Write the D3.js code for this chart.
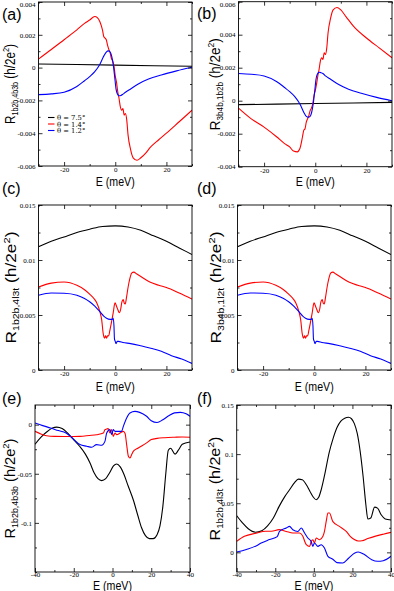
<!DOCTYPE html>
<html><head><meta charset="utf-8">
<script src="https://cdn.jsdelivr.net/npm/d3@7"></script>
<style>body{margin:0;background:#fff} svg{display:block}</style>
</head><body><svg id="c" width="394" height="591"></svg>
<script>
// ---------- DATA ----------
// Panel (a)
const aBlackE = [-30, 0, 30];
const aBlackR = [0.00022, 0.00015, 0.00008];
const aRedE = [-30,-25,-20,-15,-12,-10,-8,-7,-6,-5,-4.5,-4,-3.5,-3,-2.5,-2,-1.5,-1,-0.5,0,0.5,1,1.5,2,2.5,3,3.5,4,4.5,5,6,7,8.5,10,12,13.5,17,20,25,30];
const aRedR = [0.00052,0.0011,0.0017,0.0023,0.0027,0.0029,0.00312,0.00305,0.0028,0.0023,0.0019,0.0018,0.0017,0.00135,0.0011,0.0009,0.00055,0.0004,0.0001,-0.0005,-0.0009,-0.0015,-0.0019,-0.0024,-0.0026,-0.0025,-0.0029,-0.0028,-0.0032,-0.0041,-0.0050,-0.0055,-0.00565,-0.0055,-0.0052,-0.0049,-0.0044,-0.0040,-0.0033,-0.0026];
const aBlueE = [-30,-25,-20,-15,-12,-10,-8,-6,-4.5,-3.5,-2.7,-2,-1.4,-0.8,-0.2,0.3,0.8,1.5,2.2,3,4,6,9,13,18,24,30];
const aBlueR = [-0.00165,-0.0016,-0.0015,-0.00115,-0.0008,-0.00055,-0.00025,0.0002,0.0007,0.00095,0.00102,0.00095,0.0007,0.0002,-0.0006,-0.0013,-0.0016,-0.00172,-0.0017,-0.00162,-0.0015,-0.0013,-0.001,-0.0007,-0.00045,-0.0002,0.00002];
// Panel (b)
const bBlackE = [-30, 0, 30];
const bBlackR = [-0.00024, -0.00017, -0.0001];
const bRedE = [-30,-25,-20,-15,-12,-10,-8.5,-7,-6,-5,-4.5,-4,-3.5,-3,-2.5,-2,-1.5,-1,-0.5,0,0.5,1,1.5,2,2.5,3,3.5,4,4.5,5,6,7,8.5,10,12,15,20,25,30];
const bRedR = [-0.00045,-0.0011,-0.0016,-0.0022,-0.0026,-0.0028,-0.00305,-0.0031,-0.0029,-0.0022,-0.0018,-0.0017,-0.0013,-0.0011,-0.0009,-0.0006,-0.00045,-0.0002,0.0003,0.0006,0.001,0.0015,0.0019,0.0024,0.0026,0.0025,0.0029,0.0028,0.0032,0.0041,0.0050,0.0055,0.00565,0.0055,0.0051,0.0045,0.0038,0.0032,0.0026];
const bBlueE = [-30,-25,-20,-15,-12,-10,-8,-6,-4.5,-3.5,-2.7,-2,-1.4,-0.8,-0.2,0.3,0.8,1.5,2.2,3,4,6,9,13,18,24,30];
const bBlueR = [0.00165,0.0016,0.0015,0.00115,0.0008,0.00055,0.00025,-0.0002,-0.0007,-0.00095,-0.001,-0.00095,-0.0007,-0.0002,0.0006,0.0013,0.0016,0.00172,0.0017,0.00165,0.0015,0.0013,0.001,0.0007,0.00045,0.0002,0.0];
// Panel (c)
const cBlackE = [-30,-25,-20,-15,-10,-5,0,5,10,15,20,25,30];
const cBlackR = [0.0112,0.0117,0.0121,0.0125,0.0128,0.01305,0.0131,0.0130,0.0127,0.0122,0.0117,0.0111,0.0105];
const cRedE = [-30,-25,-20,-15,-12,-10,-8,-7.2,-6,-5.3,-4.7,-4.2,-3.8,-3.4,-3,-2.6,-2.1,-1.5,-0.8,-0.1,0.5,1,1.6,2.1,2.6,3.1,3.5,3.9,4.4,5,5.7,6.4,7.3,8.3,10,13.5,17,20,25,30];
const cRedR = [0.00755,0.0079,0.0080,0.0077,0.0073,0.0069,0.0064,0.0061,0.0053,0.00455,0.0033,0.0029,0.0031,0.0029,0.0031,0.0031,0.0036,0.0043,0.0052,0.0061,0.0058,0.0055,0.0052,0.0055,0.0062,0.0064,0.0061,0.0060,0.0066,0.0075,0.0083,0.0088,0.0089,0.00875,0.0085,0.0080,0.0077,0.0075,0.0070,0.00645];
const cBlueE = [-30,-25,-20,-15,-12,-10,-8,-6,-4.5,-3.4,-2,-1.2,-0.8,-0.5,-0.3,0,0.3,0.8,1.3,3,6,10,13.5,18,22,26,30];
const cBlueR = [0.0068,0.0070,0.00698,0.0068,0.0065,0.0062,0.0058,0.0053,0.0049,0.0047,0.0046,0.0046,0.0047,0.0040,0.0028,0.0026,0.0024,0.0026,0.0026,0.0025,0.0024,0.0022,0.0020,0.0017,0.0013,0.0010,0.0006];
// Panel (d)
const dBlackE = [-30,-25,-20,-15,-10,-5,0,5,10,15,20,25,30];
const dBlackR = [0.0112,0.0117,0.0121,0.0125,0.0128,0.01305,0.0131,0.0130,0.0127,0.0122,0.0117,0.0111,0.0105];
const dRedE = [-30,-25,-20,-15,-12,-10,-8,-7.2,-6,-5.3,-4.7,-4.2,-3.8,-3.4,-3,-2.6,-2.1,-1.5,-0.8,-0.1,0.5,1,1.6,2.1,2.6,3.1,3.5,3.9,4.4,5,5.7,6.4,7.3,8.3,10,13.5,17,20,25,30];
const dRedR = [0.00755,0.0079,0.0080,0.0077,0.0073,0.0069,0.0064,0.0061,0.0053,0.00455,0.0033,0.0029,0.0031,0.0029,0.0031,0.0031,0.0036,0.0043,0.0052,0.0061,0.0058,0.0055,0.0052,0.0055,0.0062,0.0064,0.0061,0.0060,0.0066,0.0075,0.0083,0.0088,0.0089,0.00875,0.0085,0.0080,0.0077,0.0075,0.0070,0.00645];
const dBlueE = [-30,-25,-20,-15,-12,-10,-8,-6,-4.5,-3.4,-2,-1.2,-0.8,-0.5,-0.3,0,0.3,0.8,1.3,3,6,10,13.5,18,22,26,30];
const dBlueR = [0.0068,0.0070,0.00698,0.0068,0.0065,0.0062,0.0058,0.0053,0.0049,0.0047,0.0046,0.0046,0.0047,0.0040,0.0028,0.0026,0.0024,0.0026,0.0026,0.0025,0.0024,0.0022,0.0020,0.0017,0.0013,0.0010,0.0006];
// Panel (e)
const eBlackE = [-40,-37,-34,-31,-28.8,-26,-23,-20,-17,-14,-11.6,-9.5,-7.5,-5.6,-3.5,-1.5,0.5,2.2,4,6,8,10.8,13,15,17,19,21,23,24.5,26,27.5,28.8,30,32.3,34,36,40];
const eBlackR = [-0.020,-0.013,-0.0075,-0.0035,-0.0025,-0.004,-0.009,-0.0155,-0.022,-0.030,-0.039,-0.049,-0.055,-0.057,-0.055,-0.049,-0.042,-0.040,-0.043,-0.051,-0.062,-0.077,-0.092,-0.105,-0.113,-0.116,-0.116,-0.112,-0.103,-0.083,-0.050,-0.026,-0.024,-0.030,-0.026,-0.020,-0.0176];
const eRedE = [-40,-37,-34,-30,-25,-20,-16.8,-12,-8.2,-4.7,-3.9,-3,-2.2,-1.3,-0.4,0.4,1.3,2.2,3.9,5.6,6.5,7.3,8.2,9,10,10.8,13.3,17.6,20,23,27,32,36,40];
const eRedR = [-0.0068,-0.0095,-0.0113,-0.0119,-0.012,-0.012,-0.0119,-0.011,-0.0102,-0.0085,-0.0051,-0.0045,-0.004,-0.0085,-0.005,-0.0119,-0.0085,-0.0102,-0.0085,-0.0068,-0.009,-0.0203,-0.0322,-0.034,-0.030,-0.027,-0.0237,-0.0186,-0.0152,-0.0140,-0.0133,-0.0128,-0.0125,-0.0129];
const eBlueE = [-40,-36,-32,-28,-24,-20,-16.8,-13.3,-10.7,-8.2,-5.6,-3.9,-3,-1.3,-0.4,0.4,1.3,2.2,4.7,5.6,7.3,9,11.6,14,17.6,20,23,26,29,32,35,38,40];
const eBlueR = [0.0017,-0.001,-0.0034,-0.006,-0.0085,-0.015,-0.0203,-0.022,-0.023,-0.0203,-0.021,-0.017,-0.0085,-0.0051,-0.0102,-0.0051,-0.0068,-0.0068,-0.0068,-0.0017,0.0068,0.0119,0.0135,0.0125,0.0085,0.004,0.0022,0.005,0.009,0.012,0.0125,0.011,0.0085];
// Panel (f)
const fBlackE = [-40,-37,-34,-30.3,-27,-24,-21,-18,-15,-12.6,-10,-8,-6,-3.9,-2,-0.5,1.2,2.5,3.8,5.5,8,10,12,14,16,18,19.5,21,22.5,24,25.5,27,28,29.5,31.5,33,35,37,40];
const fBlackR = [0.0373,0.030,0.024,0.0205,0.022,0.027,0.035,0.0468,0.057,0.0637,0.071,0.0745,0.074,0.0688,0.062,0.0569,0.0536,0.056,0.0637,0.078,0.102,0.116,0.127,0.1335,0.1365,0.1375,0.136,0.131,0.121,0.103,0.078,0.048,0.034,0.035,0.046,0.045,0.038,0.034,0.033];
const fRedE = [-40,-36,-30,-25,-22,-18,-14.3,-10.9,-7.4,-5.7,-4.5,-3.9,-2.2,-1.4,-0.5,0.3,1.2,3,4.7,5.5,6.4,7.3,8.1,9.8,13.3,16.8,19,21,23,25,28,32,36,40];
const fRedR = [0.0112,0.0163,0.0195,0.0215,0.0215,0.0231,0.0213,0.0197,0.0197,0.0163,0.010,0.0078,0.0061,0.011,0.0129,0.0095,0.0146,0.0129,0.0163,0.0213,0.0315,0.040,0.040,0.0315,0.0264,0.0213,0.016,0.013,0.0115,0.0118,0.014,0.0165,0.0185,0.0203];
const fBlueE = [-40,-35,-30,-27.3,-23,-19,-17.8,-14.3,-12.6,-10.9,-8.3,-6.5,-4.8,-3.1,-1.4,-0.5,0.3,2.1,3.8,5.5,7.3,9.8,12,15,18,21,23,26,30,33,36,40];
const fBlueR = [0.0004,0.003,0.0065,0.0095,0.013,0.016,0.0213,0.0248,0.0264,0.023,0.0213,0.0248,0.0197,0.0146,0.011,0.0061,0.0095,0.0061,0.0078,0.0044,-0.004,-0.007,-0.0105,-0.0108,-0.006,-0.001,0.0004,-0.002,-0.0075,-0.0091,-0.0085,-0.004];

// Tick values / labels
const abXTicks = [-20, 0, 20];
const abXTickLabels = ["-20", "0", "20"];
const abXMinor = [-30, -10, 10, 30];
const efXTicks = [-40, -20, 0, 20, 40];
const efXTickLabels = ["-40", "-20", "0", "20", "40"];
const efXMinor = [-30, -10, 10, 30];
const aYTicks = [-0.006, -0.004, -0.002, 0, 0.002, 0.004];
const aYTickLabels = ["-0.006", "-0.004", "-0.002", "0", "0.002", "0.004"];
const aYMinor = [-0.005, -0.003, -0.001, 0.001, 0.003];
const bYTicks = [-0.004, -0.002, 0, 0.002, 0.004, 0.006];
const bYTickLabels = ["-0.004", "-0.002", "0", "0.002", "0.004", "0.006"];
const bYMinor = [-0.003, -0.001, 0.001, 0.003, 0.005];
const cdYTicks = [0, 0.005, 0.01, 0.015];
const cdYTickLabels = ["0", "0.005", "0.01", "0.015"];
const cdYMinor = [0.0025, 0.0075, 0.0125];
const eYTicks = [-0.1, -0.05, 0];
const eYTickLabels = ["-0.1", "-0.05", "0"];
const eYMinor = [-0.125, -0.075, -0.025];
const eYExtra = [-0.15];
const fYTicks = [0, 0.05, 0.1, 0.15];
const fYTickLabels = ["0", "0.05", "0.1", "0.15"];
const fYMinor = [0.025, 0.075, 0.125];

const legendLabels = ["\u03b8 = 7.5\u00b0", "\u03b8 = 1.4\u00b0", "\u03b8 = 1.2\u00b0"];
const seriesColors = ["#000000", "#ff0000", "#0000ff"];

// ---------- LAYOUT ----------
const panels = [
  {id:"a", L:38.5, R:192, T:2, B:166, xd:[-30,30], yd:[-0.006,0.004],
   s:[[aBlackE,aBlackR],[aRedE,aRedR],[aBlueE,aBlueR]],
   xt:abXTicks, xl:abXTickLabels, xm:abXMinor, yt:aYTicks, yl:aYTickLabels, ym:aYMinor,
   sub:"1b2b,4b3b", lab:[2,20], ylx:15, yll:80, xlab:186, pad:1},
  {id:"b", L:238.5, R:392, T:1.7, B:166.7, xd:[-30,30], yd:[-0.004,0.006],
   s:[[bBlackE,bBlackR],[bRedE,bRedR],[bBlueE,bBlueR]],
   xt:abXTicks, xl:abXTickLabels, xm:abXMinor, yt:bYTicks, yl:bYTickLabels, ym:bYMinor,
   sub:"3b4b,1b2b", lab:[197,19], ylx:220, yll:92, xlab:186, pad:1},
  {id:"c", L:38.5, R:192, T:205, B:370, xd:[-30,30], yd:[0,0.015],
   s:[[cBlackE,cBlackR],[cRedE,cRedR],[cBlueE,cBlueR]],
   xt:abXTicks, xl:abXTickLabels, xm:abXMinor, yt:cdYTicks, yl:cdYTickLabels, ym:cdYMinor,
   sub:"1b2b,4l3t", lab:[2,194], ylx:16, yll:112, xlab:390.5, pad:1},
  {id:"d", L:237.5, R:391, T:205, B:370, xd:[-30,30], yd:[0,0.015],
   s:[[dBlackE,dBlackR],[dRedE,dRedR],[dBlueE,dBlueR]],
   xt:abXTicks, xl:abXTickLabels, xm:abXMinor, yt:cdYTicks, yl:cdYTickLabels, ym:cdYMinor,
   sub:"3b4b,1l2t", lab:[197,194], ylx:221, yll:112, xlab:390.5, pad:1},
  {id:"e", L:35, R:190, T:405, B:572, xd:[-40,40], yd:[-0.15,0.02],
   s:[[eBlackE,eBlackR],[eRedE,eRedR],[eBlueE,eBlueR]],
   xt:efXTicks, xl:efXTickLabels, xm:efXMinor, yt:eYTicks, yl:eYTickLabels, ym:eYMinor.concat(eYExtra),
   sub:"1b2b,4b3b", lab:[2,404], ylx:15, yll:100, xlab:589.5, pad:0},
  {id:"f", L:236.7, R:391, T:405, B:572, xd:[-40,40], yd:[-0.02,0.15],
   s:[[fBlackE,fBlackR],[fRedE,fRedR],[fBlueE,fBlueR]],
   xt:efXTicks, xl:efXTickLabels, xm:efXMinor, yt:fYTicks, yl:fYTickLabels, ym:fYMinor,
   sub:"1b2b,4l3t", lab:[197,404], ylx:220, yll:104, xlab:589.5, pad:0}
];

const svg = d3.select("#c");
const defs = svg.append("defs");

function styleAxis(g) {
  g.select(".domain").remove();
  g.selectAll("line").attr("stroke", "#000").attr("stroke-width", 0.8);
  g.selectAll("text").attr("font-family", "'Liberation Serif', 'Times New Roman', serif")
    .attr("font-size", 7).attr("fill", "#000");
}

panels.forEach(p => {
  const x = d3.scaleLinear().domain(p.xd).range([p.L, p.R]);
  const y = d3.scaleLinear().domain(p.yd).range([p.B, p.T]);
  const g = svg.append("g");
  const clipId = "clip-" + p.id;
  defs.append("clipPath").attr("id", clipId).append("rect")
    .attr("x", p.L).attr("y", p.T).attr("width", p.R - p.L).attr("height", p.B - p.T);

  // curves
  const line = d3.line().x(d => x(d[0])).y(d => y(d[1])).curve(d3.curveMonotoneX);
  p.s.forEach((ser, i) => {
    g.append("path").datum(d3.zip(ser[0], ser[1]))
      .attr("d", line).attr("fill", "none")
      .attr("stroke", seriesColors[i]).attr("stroke-width", 1.1)
      .attr("clip-path", `url(#${clipId})`);
  });

  // axes (inward ticks on all four sides)
  const fmtX = v => p.xl[p.xt.indexOf(v)];
  const fmtY = v => p.yl[p.yt.indexOf(v)];
  g.append("g").attr("transform", `translate(0,${p.B})`)
    .call(d3.axisBottom(x).tickValues(p.xt).tickSize(-4).tickPadding(p.pad).tickFormat(fmtX)).call(styleAxis);
  g.append("g").attr("transform", `translate(0,${p.B})`)
    .call(d3.axisBottom(x).tickValues(p.xm).tickSize(-2).tickFormat("")).call(styleAxis);
  g.append("g").attr("transform", `translate(0,${p.T})`)
    .call(d3.axisTop(x).tickValues(p.xt).tickSize(-4).tickFormat("")).call(styleAxis);
  g.append("g").attr("transform", `translate(0,${p.T})`)
    .call(d3.axisTop(x).tickValues(p.xm).tickSize(-2).tickFormat("")).call(styleAxis);
  const yAx = g.append("g").attr("transform", `translate(${p.L},0)`)
    .call(d3.axisLeft(y).tickValues(p.yt).tickSize(-4).tickPadding(3).tickFormat(fmtY)).call(styleAxis);
  // keep a label sitting on the very top edge inside the picture
  yAx.selectAll(".tick").each(function(v) {
    if (y(v) < 4) d3.select(this).select("text").attr("dy", "0.7em");
  });
  g.append("g").attr("transform", `translate(${p.L},0)`)
    .call(d3.axisLeft(y).tickValues(p.ym).tickSize(-2).tickFormat("")).call(styleAxis);
  g.append("g").attr("transform", `translate(${p.R},0)`)
    .call(d3.axisRight(y).tickValues(p.yt).tickSize(-4).tickFormat("")).call(styleAxis);
  g.append("g").attr("transform", `translate(${p.R},0)`)
    .call(d3.axisRight(y).tickValues(p.ym).tickSize(-2).tickFormat("")).call(styleAxis);

  // frame
  g.append("rect").attr("x", p.L).attr("y", p.T).attr("width", p.R - p.L).attr("height", p.B - p.T)
    .attr("fill", "none").attr("stroke", "#000").attr("stroke-width", 0.9);

  // panel label
  svg.append("text").attr("x", p.lab[0]).attr("y", p.lab[1])
    .attr("font-family", "'Liberation Sans', Arial, sans-serif").attr("font-size", 16)
    .text(`(${p.id})`);

  // x-axis title
  const xg = svg.append("g");
  const xt = xg.append("text").attr("text-anchor", "middle")
    .attr("font-family", "'Liberation Sans', Arial, sans-serif").attr("font-size", 12.5).text("E (meV)");
  const xw = xt.node().getComputedTextLength();
  xg.attr("transform", `translate(${(p.L + p.R) / 2},${p.xlab}) scale(${39 / xw},1)`);

  // y-axis title
  const yg = svg.append("g");
  const yt = yg.append("text").attr("text-anchor", "middle")
    .attr("font-family", "'Liberation Sans', Arial, sans-serif").attr("font-size", 14);
  yt.append("tspan").text("R");
  yt.append("tspan").attr("font-size", 8.5).attr("dy", 3).text(p.sub);
  yt.append("tspan").attr("dy", -3).text(" (h/2e");
  yt.append("tspan").attr("font-size", 9).attr("dy", -6).text("2");
  yt.append("tspan").attr("dy", 6).text(")");
  const yw = yt.node().getComputedTextLength();
  yg.attr("transform", `translate(${p.ylx},${(p.T + p.B) / 2}) rotate(-90) scale(${p.yll / yw},1)`);

  // legend in (a)
  if (p.id === "a") {
    const lx = 48, ly = [117.5, 124, 130.5];
    legendLabels.forEach((t, i) => {
      svg.append("line").attr("x1", lx).attr("x2", lx + 6.5).attr("y1", ly[i]).attr("y2", ly[i])
        .attr("stroke", seriesColors[i]).attr("stroke-width", 1.1);
      svg.append("text").attr("x", lx + 9).attr("y", ly[i] + 2.5)
        .attr("font-family", "'DejaVu Serif', 'Liberation Serif', serif").attr("font-size", 6.8)
        .text(t);
    });
  }
});
</script></body></html>
